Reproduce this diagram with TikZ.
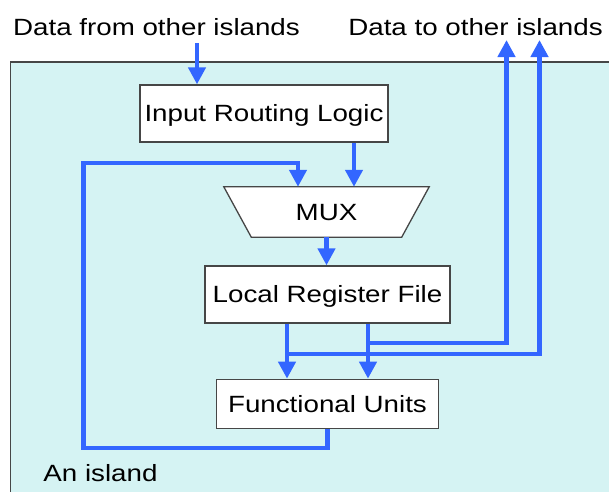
\documentclass[tikz,border=0pt]{standalone}
\usepackage{fontspec}
\setmainfont{Liberation Sans}[FakeStretch=1.18]
\usetikzlibrary{arrows.meta}
\definecolor{islandfill}{RGB}{213,243,243}
\definecolor{wire}{RGB}{51,102,255}
\definecolor{edge}{RGB}{70,70,70}
\begin{document}
\begin{tikzpicture}[x=1pt,y=-1pt,
  font=\fontsize{23.5pt}{28pt}\selectfont,
  unit/.style={draw=edge, line width=1.3pt, fill=white, inner sep=0pt,
    text height=16.8pt, text depth=0pt},
  plain/.style={inner sep=0pt, text height=16.8pt, text depth=0pt},
  wirearrow/.style={draw=wire, line width=4.5pt, -{Triangle[length=17pt,width=17pt]}},
  caption/.style={anchor=base, inner sep=0pt}]
\useasboundingbox (0,0) rectangle (609,491);
\fill[white] (0,0) rectangle (609,491);
% the island
\draw[edge, fill=islandfill, line width=1.3pt] (10.5,62) rectangle (640,520);

% blocks
\node[unit, minimum width=248pt, minimum height=57pt] (irl) at (264,113.5) {Input Routing Logic};
\node[inner sep=0pt, minimum width=150pt, minimum height=50pt] (mux) at (326.5,212) {};
\filldraw[fill=white, draw=edge, line width=1.3pt]
  ([xshift=-27.5pt]mux.north west) -- ([xshift=27.5pt]mux.north east)
  -- (mux.south east) -- (mux.south west) -- cycle;
\node[plain] (muxlabel) at (mux.center) {MUX};
\node[unit, minimum width=245pt, minimum height=57pt] (lrf) at (327.5,294.5) {Local Register File};
\node[unit, minimum width=222pt, minimum height=49pt] (fu) at (327.5,403.8) {Functional Units};

% captions
\node[caption] (fromlbl) at (156.5,35) {Data from other islands};
\node[caption] (tolbl) at (475.5,35) {Data to other islands};
\node[caption] (islandlbl) at (100.5,481) {An island};

% wiring points
\coordinate (inTop) at (197,43);
\coordinate (irlOut) at ([xshift=90pt]irl.south);
\coordinate (lrfL) at ([xshift=-40.5pt]lrf.south);
\coordinate (lrfR) at ([xshift=40.5pt]lrf.south);
\coordinate (loopL) at (83.5,163);
\coordinate (loopR) at (298,163);
\coordinate (tapA) at (368,343);
\coordinate (tapB) at (287,354);
\coordinate (outA) at (506.5,40);
\coordinate (outB) at (539.5,40);

% wires
\draw[wirearrow] (inTop) -- (inTop |- irl.north);
\draw[wirearrow] (irlOut) -- (irlOut |- mux.north);
\draw[wirearrow] (mux.south) -- (mux.south |- lrf.north);
\draw[wirearrow] (fu.south) -- ++(0,19) -| (loopL) -| (loopR |- mux.north);
\draw[wirearrow] (tapA) -| (outA);
\draw[wirearrow] (tapB) -| (outB);
\draw[wirearrow] (lrfL) -- (lrfL |- fu.north);
\draw[wirearrow] (lrfR) -- (lrfR |- fu.north);
\end{tikzpicture}
\end{document}
